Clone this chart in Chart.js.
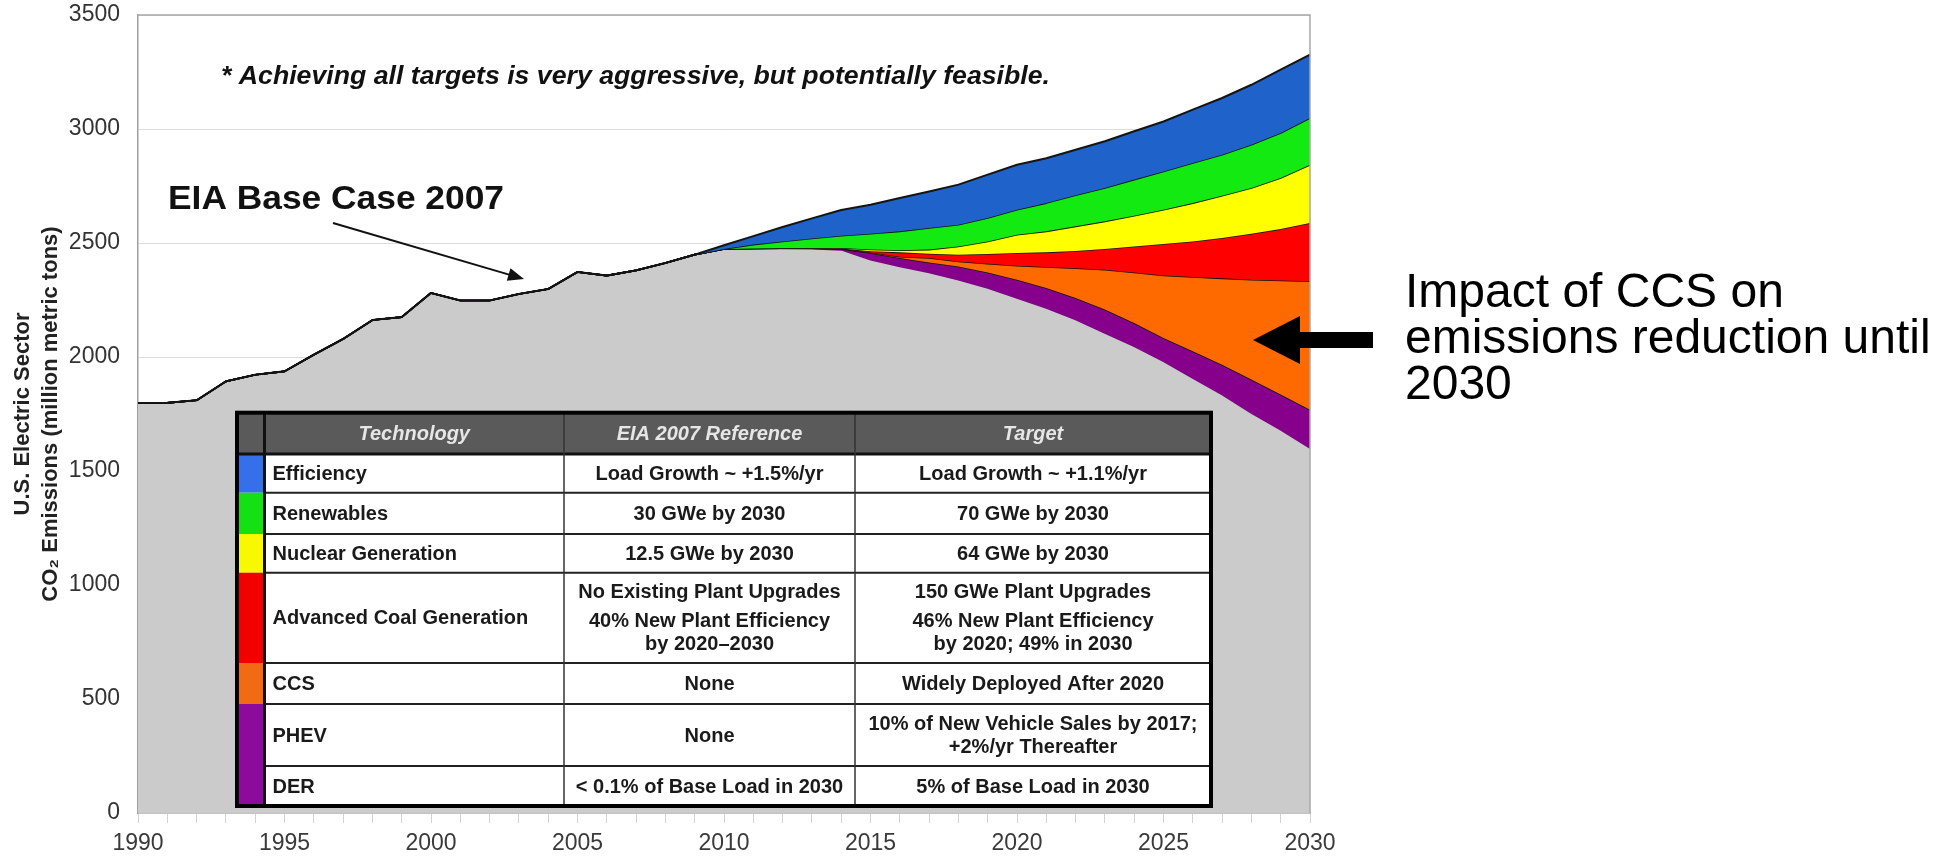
<!DOCTYPE html>
<html>
<head>
<meta charset="utf-8">
<title>U.S. Electric Sector CO2 Emissions</title>
<script src="https://cdn.jsdelivr.net/npm/chart.js@4.4.1/dist/chart.umd.min.js"></script>
<style>
  html, body { margin: 0; padding: 0; background: #ffffff; }
  canvas { display: block; }
</style>
</head>
<body>
<canvas id="chart" width="1945" height="860"></canvas>
<script>
// ---- Data (million metric tons CO2) ----
const historyYears = [1990, 1991, 1992, 1993, 1994, 1995, 1996, 1997, 1998, 1999,
                      2000, 2001, 2002, 2003, 2004, 2005, 2006, 2007, 2008, 2009];
const historyEmissions = [1798, 1799, 1810, 1893, 1922, 1937, 2010, 2079, 2162, 2175,
                          2281, 2248, 2248, 2276, 2298, 2373, 2357, 2380, 2412, 2449];

const projectionYears = [2010, 2011, 2012, 2013, 2014, 2015, 2016, 2017, 2018, 2019, 2020,
                         2021, 2022, 2023, 2024, 2025, 2026, 2027, 2028, 2029, 2030];
// Upper edge of each band: EIA base case, then what remains after each technology
const eiaBaseCase     = [2490, 2530, 2570, 2608, 2645, 2668, 2697, 2726, 2756, 2800, 2843,
                         2872, 2909, 2946, 2990, 3033, 3085, 3136, 3194, 3260, 3326];
const afterEfficiency = [2474, 2493, 2507, 2520, 2532, 2541, 2551, 2566, 2580, 2610, 2646,
                         2675, 2709, 2741, 2778, 2814, 2851, 2887, 2931, 2982, 3048];
const afterRenewables = [2474, 2476, 2478, 2478, 2478, 2472, 2468, 2471, 2485, 2507, 2536,
                         2551, 2573, 2595, 2620, 2646, 2675, 2707, 2741, 2785, 2843];
const afterNuclear    = [2474, 2476, 2477, 2477, 2476, 2464, 2459, 2453, 2449, 2452, 2456,
                         2459, 2465, 2474, 2485, 2496, 2507, 2522, 2541, 2561, 2588];
const afterAdvCoal    = [2474, 2476, 2477, 2477, 2475, 2458, 2440, 2434, 2419, 2409, 2400,
                         2395, 2389, 2383, 2371, 2358, 2351, 2345, 2339, 2336, 2332];
const afterCCS        = [2474, 2476, 2477, 2477, 2474, 2456, 2434, 2415, 2397, 2371, 2339,
                         2303, 2259, 2208, 2149, 2083, 2025, 1966, 1901, 1835, 1769];
const afterPhevDer    = [2474, 2476, 2476, 2475, 2470, 2427, 2397, 2371, 2339, 2303, 2259,
                         2215, 2164, 2105, 2047, 1981, 1908, 1835, 1754, 1681, 1601];

// Table content
const techNames = ['Efficiency', 'Renewables', 'Nuclear Generation', 'Advanced Coal Generation',
                   'CCS', 'PHEV', 'DER'];
const eiaReference = ['Load Growth ~ +1.5%/yr', '30 GWe by 2030', '12.5 GWe by 2030',
                      'No Existing Plant Upgrades\n\n40% New Plant Efficiency\nby 2020\u20132030',
                      'None', 'None', '< 0.1% of Base Load in 2030'];
const targets = ['Load Growth ~ +1.1%/yr', '70 GWe by 2030', '64 GWe by 2030',
                 '150 GWe Plant Upgrades\n\n46% New Plant Efficiency\nby 2020; 49% in 2030',
                 'Widely Deployed After 2020',
                 '10% of New Vehicle Sales by 2017;\n+2%/yr Thereafter',
                 '5% of Base Load in 2030'];
const tableHeaders = ['Technology', 'EIA 2007 Reference', 'Target'];

const yAxisTitle = ['U.S. Electric Sector', 'CO\u2082 Emissions (million metric tons)'];
const noteText = '* Achieving all targets is very aggressive, but potentially feasible.';
const baseCaseLabel = 'EIA Base Case 2007';
const ccsNote = ['Impact of CCS on', 'emissions reduction until', '2030'];

// ---- Styles ----
const bandColors = ['#1f62c9', '#12ea12', '#ffff00', '#ff0000', '#ff6a00', '#86008c', '#cbcbcb'];
const swatchColors = ['#3570ea', '#14e014', '#f8f800', '#f20000', '#f26a12', '#8c0a9c', '#8c0a9c'];
const SANS = '"Liberation Sans", Arial, Helvetica, sans-serif';

// Build full series: history shared by every band, projections per band
const allYears = historyYears.concat(projectionYears);
function buildSeries(projection) {
  return allYears.map((yr, i) => ({
    x: yr,
    y: i < historyYears.length ? historyEmissions[i] : projection[i - historyYears.length]
  }));
}

const bandSeries = [eiaBaseCase, afterEfficiency, afterRenewables, afterNuclear,
                    afterAdvCoal, afterCCS, afterPhevDer];
const bandLabels = ['Efficiency', 'Renewables', 'Nuclear Generation', 'Advanced Coal Generation',
                    'CCS', 'PHEV + DER', 'Remaining emissions'];

const datasets = bandSeries.map((proj, i) => ({
  label: bandLabels[i],
  data: buildSeries(proj),
  backgroundColor: bandColors[i],
  borderColor: i === bandSeries.length - 1 ? '#7a0a80' : '#141414',
  borderWidth: i === 0 ? 2 : 1.6,
  pointRadius: 0,
  tension: 0,
  fill: i === bandSeries.length - 1 ? 'origin' : '+1'
}));

// ---- Overlay drawing: frame, notes, arrows, technology table ----
function fitText(ctx, text, x, y, font, targetWidth) {
  ctx.font = font;
  const w = ctx.measureText(text).width;
  const s = targetWidth ? targetWidth / w : 1;
  ctx.save();
  ctx.translate(x, y);
  ctx.scale(s, 1);
  ctx.fillText(text, 0, 0);
  ctx.restore();
}

function drawCellText(ctx, text, x0, x1, yTop, h, align) {
  const parts = text.split('\n');
  const lh = 23, gap = 6;
  let total = 0;
  parts.forEach(p => { total += p === '' ? gap : lh; });
  let y = yTop + h / 2 - total / 2;
  parts.forEach(p => {
    if (p === '') { y += gap; return; }
    ctx.fillText(p, align === 'left' ? x0 + 8 : (x0 + x1) / 2, y + lh / 2 + 1);
    y += lh;
  });
}

const overlayPlugin = {
  id: 'overlay',
  afterDraw(chart) {
    const ctx = chart.ctx;
    const a = chart.chartArea;
    ctx.save();

    // plot frame (top and right)
    ctx.strokeStyle = '#a8a8a8';
    ctx.lineWidth = 1.5;
    ctx.beginPath();
    ctx.moveTo(a.left, a.top);
    ctx.lineTo(a.right, a.top);
    ctx.lineTo(a.right, a.bottom);
    ctx.stroke();

    // note at top
    ctx.fillStyle = '#111';
    ctx.textBaseline = 'alphabetic';
    ctx.textAlign = 'left';
    fitText(ctx, noteText, 221, 84, `italic bold 25px ${SANS}`, 829);

    // base case label and its pointer
    fitText(ctx, baseCaseLabel, 168, 209, `bold 33px ${SANS}`, 336);
    const p0 = [333, 223], p1 = [524, 279];
    const ang = Math.atan2(p1[1] - p0[1], p1[0] - p0[0]);
    ctx.strokeStyle = '#111';
    ctx.lineWidth = 2;
    ctx.beginPath();
    ctx.moveTo(p0[0], p0[1]);
    ctx.lineTo(p1[0] - 12 * Math.cos(ang), p1[1] - 12 * Math.sin(ang));
    ctx.stroke();
    ctx.beginPath();
    ctx.moveTo(p1[0], p1[1]);
    ctx.lineTo(p1[0] - 16 * Math.cos(ang) + 6.5 * Math.sin(ang), p1[1] - 16 * Math.sin(ang) - 6.5 * Math.cos(ang));
    ctx.lineTo(p1[0] - 16 * Math.cos(ang) - 6.5 * Math.sin(ang), p1[1] - 16 * Math.sin(ang) + 6.5 * Math.cos(ang));
    ctx.closePath();
    ctx.fillStyle = '#111';
    ctx.fill();

    // CCS arrow and caption
    ctx.fillStyle = '#000';
    ctx.beginPath();
    ctx.moveTo(1253, 340);
    ctx.lineTo(1300, 316);
    ctx.lineTo(1300, 332);
    ctx.lineTo(1373, 332);
    ctx.lineTo(1373, 348);
    ctx.lineTo(1300, 348);
    ctx.lineTo(1300, 364);
    ctx.closePath();
    ctx.fill();
    ctx.font = `48px ${SANS}`;
    ccsNote.forEach((line, i) => ctx.fillText(line, 1405, 307 + i * 46));

    // technology table
    const cols = [237, 264.5, 564, 855, 1211];
    const top = 412.7, headerH = 41.3;
    const rowH = [38.7, 41.3, 38.7, 90.3, 41, 62, 40];
    const bottom = top + headerH + rowH.reduce((s, h) => s + h, 0);

    ctx.fillStyle = '#ffffff';
    ctx.fillRect(cols[0], top, cols[4] - cols[0], bottom - top);
    ctx.fillStyle = '#5a5a5a';
    ctx.fillRect(cols[0], top, cols[4] - cols[0], headerH);

    // header text
    ctx.fillStyle = '#e6e6e6';
    ctx.textBaseline = 'middle';
    ctx.textAlign = 'center';
    ctx.font = `italic bold 20px ${SANS}`;
    tableHeaders.forEach((h, i) => {
      ctx.fillText(h, (cols[i + 1] + cols[i + 2]) / 2, top + headerH / 2 + 1);
    });

    // rows
    let y = top + headerH;
    ctx.font = `bold 20px ${SANS}`;
    techNames.forEach((name, r) => {
      const h = rowH[r];
      ctx.fillStyle = swatchColors[r];
      ctx.fillRect(cols[0], y, cols[1] - cols[0], h);
      ctx.fillStyle = '#1a1a1a';
      ctx.textAlign = 'left';
      drawCellText(ctx, name, cols[1], cols[2], y, h, 'left');
      ctx.textAlign = 'center';
      drawCellText(ctx, eiaReference[r], cols[2], cols[3], y, h, 'center');
      drawCellText(ctx, targets[r], cols[3], cols[4], y, h, 'center');
      y += h;
    });

    // grid lines
    ctx.strokeStyle = '#222';
    ctx.lineWidth = 2;
    y = top + headerH;
    rowH.slice(0, -1).forEach(h => {
      y += h;
      ctx.beginPath();
      ctx.moveTo(cols[1], y);
      ctx.lineTo(cols[4], y);
      ctx.stroke();
    });
    ctx.lineWidth = 3;
    ctx.strokeStyle = '#111';
    ctx.beginPath();
    ctx.moveTo(cols[0], top + headerH);
    ctx.lineTo(cols[4], top + headerH);
    ctx.stroke();
    ctx.beginPath();
    ctx.moveTo(cols[1], top);
    ctx.lineTo(cols[1], bottom);
    ctx.stroke();
    ctx.lineWidth = 1.5;
    ctx.strokeStyle = '#333';
    [cols[2], cols[3]].forEach(x => {
      ctx.beginPath();
      ctx.moveTo(x, top);
      ctx.lineTo(x, bottom);
      ctx.stroke();
    });
    ctx.lineWidth = 4;
    ctx.strokeStyle = '#000';
    ctx.strokeRect(cols[0], top, cols[4] - cols[0], bottom - top);

    ctx.restore();
  }
};

new Chart(document.getElementById('chart'), {
  type: 'line',
  data: { datasets },
  plugins: [overlayPlugin],
  options: {
    responsive: false,
    animation: false,
    devicePixelRatio: 1,
    layout: { padding: { top: 15, right: 635, bottom: 0, left: 0 } },
    plugins: { legend: { display: false }, tooltip: { enabled: false } },
    elements: { line: { borderJoinStyle: 'round' } },
    scales: {
      x: {
        type: 'linear',
        min: 1990,
        max: 2030,
        afterFit: s => { s.height = 47; },
        ticks: {
          stepSize: 1,
          autoSkip: false,
          maxRotation: 0,
          padding: 7,
          color: '#3a3a3a',
          font: { family: SANS, size: 23 },
          callback: v => (v % 5 === 0 ? String(v) : '')
        },
        grid: { drawOnChartArea: false, drawTicks: true, tickLength: 10, color: '#d2d2d2' },
        border: { display: true, color: '#a8a8a8', width: 1.5 }
      },
      y: {
        min: 0,
        max: 3500,
        afterFit: s => { s.width = 138; s.paddingTop = 0; s.paddingBottom = 0; },
        ticks: {
          stepSize: 500,
          padding: 18,
          color: '#333',
          font: { family: SANS, size: 23 },
          callback: v => String(v)
        },
        grid: { color: '#dcdcdc', lineWidth: 1, drawTicks: false },
        border: { display: true, color: '#a0a0a0', width: 1.5 },
        title: {
          display: true,
          text: yAxisTitle,
          color: '#222',
          font: { family: SANS, size: 22, weight: 'bold', lineHeight: 1.27 },
          padding: { top: 9, bottom: 0 }
        }
      }
    }
  }
});
</script>
</body>
</html>
